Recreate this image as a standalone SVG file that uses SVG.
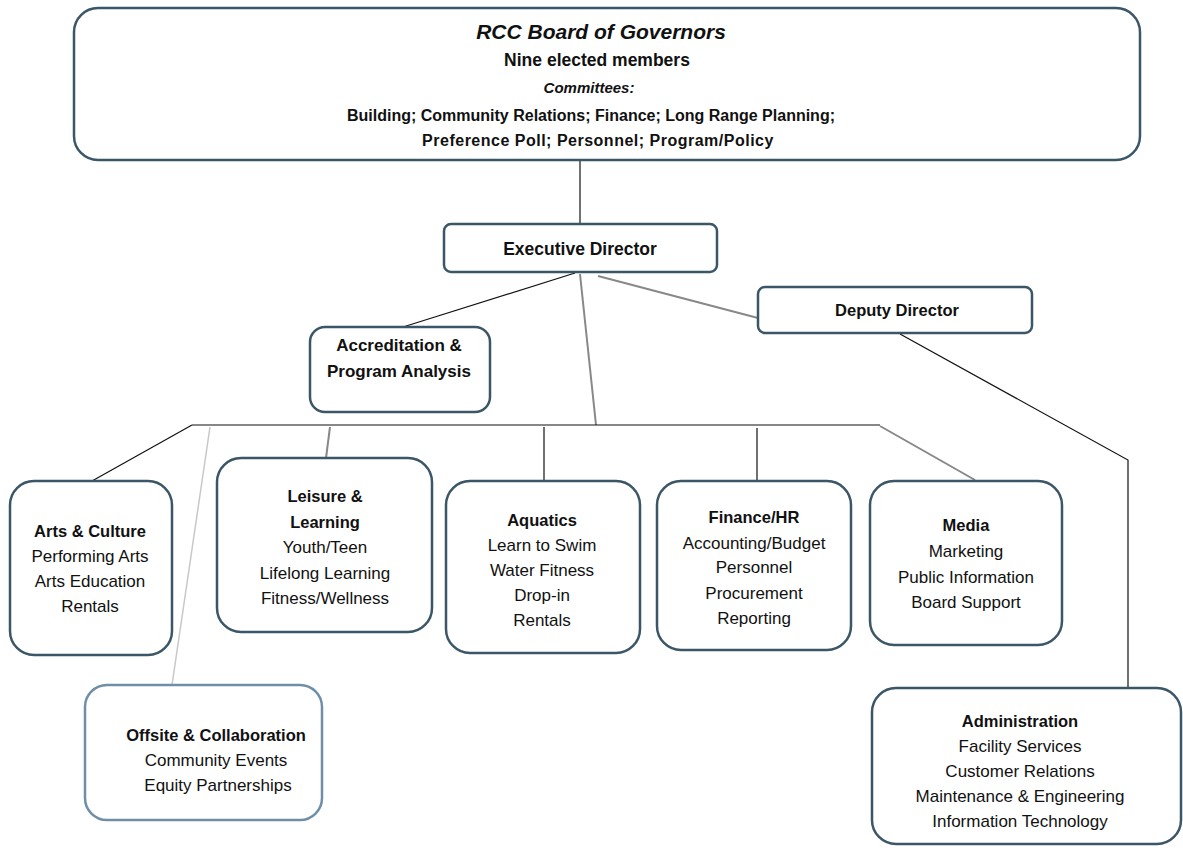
<svg xmlns="http://www.w3.org/2000/svg" width="1183" height="855" viewBox="0 0 1183 855">
<style>
.box{fill:#fff;stroke:#3b5667;stroke-width:2.5}
.lt{stroke:#6f8fa8}
.t{font-family:"Liberation Sans",Arial,sans-serif;font-size:17px;fill:#111;text-anchor:middle}
.b{font-weight:bold;font-size:16.5px}
.dk{stroke:#111;stroke-width:1.2;fill:none}
.gr{stroke:#888;stroke-width:2;fill:none}
.lg{stroke:#c8c8c8;stroke-width:1.5;fill:none}
</style>
<rect width="1183" height="855" fill="#fff"/>
<g id="connectors">
<line class="dk" x1="580" y1="160" x2="580" y2="225"/>
<line class="gr" x1="598" y1="276" x2="758" y2="318"/>
<line class="dk" x1="575" y1="273" x2="403" y2="327"/>
<line class="gr" x1="580" y1="274" x2="596" y2="425"/>
<line class="dk" x1="192" y1="425" x2="880" y2="425"/>
<line class="dk" x1="192" y1="425" x2="92" y2="481"/>
<line class="gr" x1="330" y1="427" x2="326" y2="458"/>
<line class="dk" x1="544" y1="427" x2="544" y2="480"/>
<line class="dk" x1="757" y1="428" x2="757" y2="481"/>
<line class="gr" x1="880" y1="426" x2="975" y2="480"/>
<line class="lg" x1="210" y1="427" x2="172" y2="685"/>
<polyline class="dk" points="900,334 1128,460 1128,688"/>
</g>
<g id="board">
<rect class="box" x="74" y="8" width="1066" height="152" rx="24"/>
<text class="t" x="601" y="39" style="font-size:21px;font-style:italic;font-weight:bold">RCC Board of Governors</text>
<text class="t" x="597" y="66" style="font-size:17.5px;font-weight:bold">Nine elected members</text>
<text class="t" x="589" y="93" style="font-size:15px;font-style:italic;font-weight:bold">Committees:</text>
<text class="t" x="591" y="121" style="font-size:16px;font-weight:bold">Building; Community Relations; Finance; Long Range Planning;</text>
<text class="t" x="598" y="146" style="font-size:16px;font-weight:bold;letter-spacing:0.5px">Preference Poll; Personnel; Program/Policy</text>
</g>
<g id="exec">
<rect class="box" x="444" y="224" width="273" height="48" rx="7"/>
<text class="t" x="580" y="255" style="font-size:17.5px;font-weight:bold">Executive Director</text>
</g>
<g id="deputy">
<rect class="box" x="758" y="287" width="274" height="46" rx="7"/>
<text class="t" x="897" y="316" style="font-size:16.5px;font-weight:bold">Deputy Director</text>
</g>
<g id="accreditation">
<rect class="box" x="310" y="327" width="180" height="85" rx="15"/>
<text class="t b" x="399" y="351" style="font-size:17px">Accreditation &amp;</text>
<text class="t b" x="399" y="377" style="font-size:17px">Program Analysis</text>
</g>
<g id="arts">
<rect class="box" x="10" y="481" width="162" height="174" rx="24"/>
<text class="t b" x="90" y="537">Arts &amp; Culture</text>
<text class="t" x="90" y="562">Performing Arts</text>
<text class="t" x="90" y="587">Arts Education</text>
<text class="t" x="90" y="612">Rentals</text>
</g>
<g id="leisure">
<rect class="box" x="217" y="458" width="215" height="174" rx="24"/>
<text class="t b" x="325" y="502">Leisure &amp;</text>
<text class="t b" x="325" y="528">Learning</text>
<text class="t" x="325" y="553">Youth/Teen</text>
<text class="t" x="325" y="579">Lifelong Learning</text>
<text class="t" x="325" y="604">Fitness/Wellness</text>
</g>
<g id="aquatics">
<rect class="box" x="446" y="481" width="194" height="172" rx="24"/>
<text class="t b" x="542" y="526">Aquatics</text>
<text class="t" x="542" y="551">Learn to Swim</text>
<text class="t" x="542" y="576">Water Fitness</text>
<text class="t" x="542" y="601">Drop-in</text>
<text class="t" x="542" y="626">Rentals</text>
</g>
<g id="finance">
<rect class="box" x="657" y="481" width="194" height="169" rx="24"/>
<text class="t b" x="754" y="523">Finance/HR</text>
<text class="t" x="754" y="549">Accounting/Budget</text>
<text class="t" x="754" y="573">Personnel</text>
<text class="t" x="754" y="599">Procurement</text>
<text class="t" x="754" y="624">Reporting</text>
</g>
<g id="media">
<rect class="box" x="870" y="481" width="192" height="164" rx="24"/>
<text class="t b" x="966" y="531">Media</text>
<text class="t" x="966" y="557">Marketing</text>
<text class="t" x="966" y="583">Public Information</text>
<text class="t" x="966" y="608">Board Support</text>
</g>
<g id="offsite">
<rect class="box lt" x="85" y="685" width="237" height="135" rx="22"/>
<text class="t b" x="216" y="741">Offsite &amp; Collaboration</text>
<text class="t" x="216" y="766">Community Events</text>
<text class="t" x="218" y="791">Equity Partnerships</text>
</g>
<g id="administration">
<rect class="box" x="872" y="688" width="309" height="156" rx="24"/>
<text class="t b" x="1020" y="727">Administration</text>
<text class="t" x="1020" y="752">Facility Services</text>
<text class="t" x="1020" y="777">Customer Relations</text>
<text class="t" x="1020" y="802">Maintenance &amp; Engineering</text>
<text class="t" x="1020" y="827">Information Technology</text>
</g>
</svg>
